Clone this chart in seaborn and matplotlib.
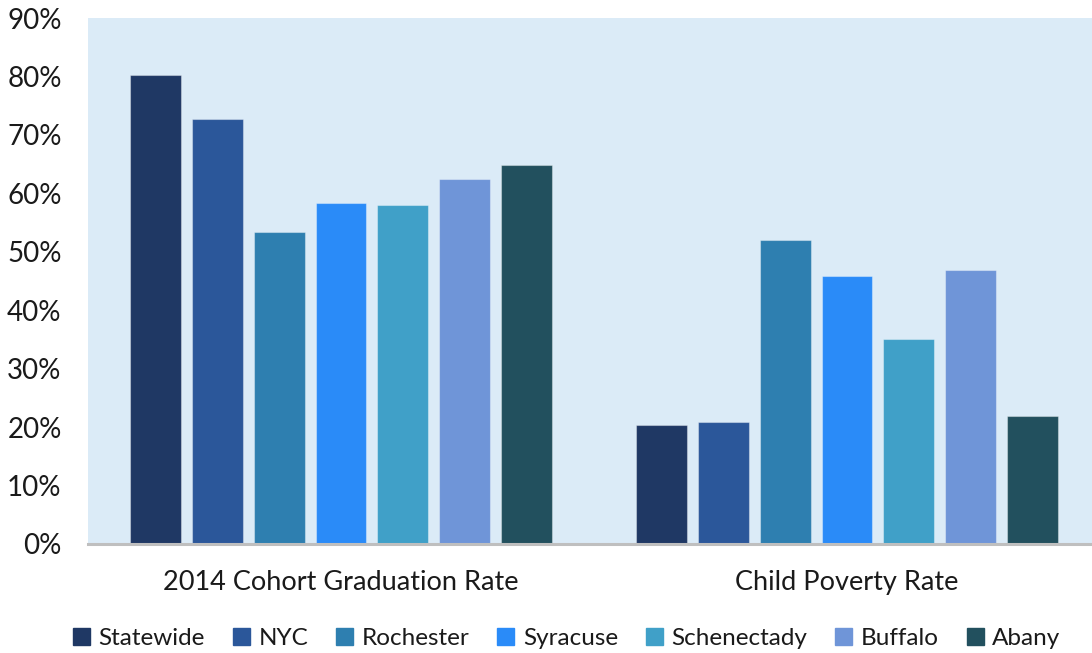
import matplotlib
matplotlib.use('Agg')
import matplotlib.pyplot as plt
import matplotlib.ticker as mticker
import seaborn as sns
import pandas as pd

# Data
categories = ['2014 Cohort Graduation Rate', 'Child Poverty Rate']
cities = ['Statewide', 'NYC', 'Rochester', 'Syracuse', 'Schenectady', 'Buffalo', 'Abany']
graduation = [0.803, 0.727, 0.534, 0.583, 0.580, 0.625, 0.649]
poverty = [0.203, 0.209, 0.520, 0.458, 0.350, 0.469, 0.219]
colors = ['#1F3864', '#2B579A', '#2E7FB0', '#2A8BF8', '#40A0C8', '#6F95D8', '#22505E']

rows = []
for city, g, p in zip(cities, graduation, poverty):
    rows.append({'category': categories[0], 'city': city, 'value': g})
    rows.append({'category': categories[1], 'city': city, 'value': p})
df = pd.DataFrame(rows)

sns.set_style('white')
plt.rcParams['font.family'] = ['Lato', 'DejaVu Sans']

fig = plt.figure(figsize=(10.92, 6.53), dpi=100)
# plot area runs slightly past the right edge of the picture
ax = fig.add_axes([0.0806, 0.167, 0.9267, 0.8054])
ax.set_facecolor('#DBEBF7')

sns.barplot(data=df, x='category', y='value', hue='city', order=categories,
            hue_order=cities, palette=colors, width=0.855, gap=0.18,
            saturation=1, edgecolor=(1, 1, 1, 0.35), linewidth=0.8,
            legend=False, ax=ax)

ax.set_ylim(0, 0.9)
ax.yaxis.set_major_locator(mticker.MultipleLocator(0.1))
ax.yaxis.set_major_formatter(mticker.PercentFormatter(1.0, decimals=0))
ax.set_xlabel('')
ax.set_ylabel('')
ax.tick_params(axis='y', length=0, pad=19, labelsize=20, labelcolor='#1a1a1a')
ax.tick_params(axis='x', length=0, pad=19, labelsize=19.5, labelcolor='#1a1a1a')

for side in ['top', 'right', 'left']:
    ax.spines[side].set_visible(False)
ax.spines['bottom'].set_color('#BFBFBF')
ax.spines['bottom'].set_linewidth(2.2)

handles = [plt.Rectangle((0, 0), 1, 1, color=c) for c in colors]
fig.legend(handles, cities, loc='lower center', bbox_to_anchor=(0.519, -0.027),
           ncol=7, frameon=False, fontsize=17.5, handlelength=0.7,
           handleheight=0.7, handletextpad=0.35, columnspacing=1.15,
           labelcolor='#1a1a1a')

fig.savefig('out.png', dpi=100)
